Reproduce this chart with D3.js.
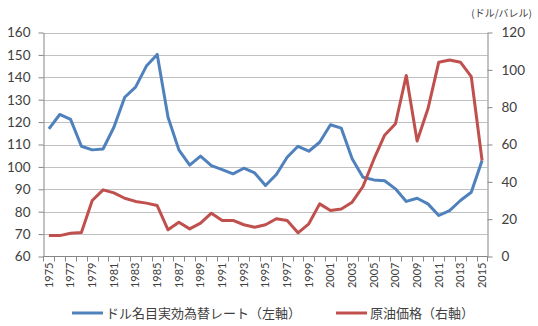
<!DOCTYPE html>
<html>
<head>
<meta charset="utf-8">
<script src="https://cdn.jsdelivr.net/npm/d3@7"></script>
<style>
  html, body { margin: 0; padding: 0; background: #fff; }
  svg { display: block; }
  .num { font-family: Lato, "Liberation Sans", sans-serif; fill: #404040; }
  .jp { font-family: "Noto Sans CJK JP", sans-serif; fill: #404040; }
</style>
</head>
<body>
<svg id="chart" width="538" height="326"></svg>
<script>
// Years on the category axis
const years = d3.range(1975, 2016);

// Nominal effective dollar exchange rate (left axis)
const dollarIndex = [
  117.0, 123.4, 121.2, 109.2, 107.6, 108.0, 117.7, 131.1, 135.6, 145.0,
  150.2, 122.2, 107.6, 100.8, 104.8, 100.6, 98.8, 96.9, 99.4, 97.3,
  91.7, 96.6, 104.3, 109.2, 107.0, 111.0, 118.8, 117.3, 103.6, 95.4,
  94.2, 93.8, 90.2, 84.6, 86.0, 83.5, 78.3, 80.5, 85.0, 88.7,
  102.9
];

// Crude oil price, USD per barrel (right axis)
const oilPrice = [
  11.2, 11.2, 12.5, 12.9, 30.0, 35.7, 34.1, 31.2, 29.5, 28.6,
  27.3, 14.3, 18.4, 14.8, 17.9, 23.2, 19.3, 19.3, 17.0, 15.7,
  17.0, 20.2, 19.3, 12.7, 17.5, 28.2, 24.6, 25.5, 29.1, 37.5,
  52.0, 65.0, 71.1, 97.0, 61.9, 79.1, 104.1, 105.3, 104.1, 96.4,
  51.4
];

const leftTicks = d3.range(60, 161, 10);
const rightTicks = d3.range(0, 121, 20);

const seriesNames = ["ドル名目実効為替レート（左軸）", "原油価格（右軸）"];
const unitLabel = "(ドル/バレル)";

const colors = { dollar: "#4f81bd", oil: "#c0504d" };
const gridColor = "#c0c0c0";
const axisColor = "#868686";

const svg = d3.select("#chart");
const plot = { left: 43.5, right: 487.5, top: 32.5, bottom: 256.5 };

const x = d3.scaleBand()
  .domain(years)
  .range([plot.left, plot.right])
  .paddingInner(0).paddingOuter(0);
const cx = d => x(d) + x.bandwidth() / 2;

const yL = d3.scaleLinear().domain([60, 160]).range([plot.bottom, plot.top]);
const yR = d3.scaleLinear().domain([0, 120]).range([plot.bottom, plot.top]);

// Horizontal gridlines
svg.append("g")
  .selectAll("line")
  .data(leftTicks.slice(1))
  .join("line")
  .attr("x1", plot.left).attr("x2", plot.right)
  .attr("y1", d => Math.round(yL(d)) + 0.5)
  .attr("y2", d => Math.round(yL(d)) + 0.5)
  .attr("stroke", gridColor).attr("stroke-width", 1);

// Left axis
const axL = svg.append("g")
  .attr("transform", `translate(${plot.left},0)`)
  .call(d3.axisLeft(yL).tickValues(leftTicks).tickSize(5).tickSizeOuter(0).tickPadding(8));
axL.selectAll("text").attr("class", "num").attr("font-size", 13.5);

// Right axis
const axR = svg.append("g")
  .attr("transform", `translate(${plot.right},0)`)
  .call(d3.axisRight(yR).tickValues(rightTicks).tickSize(5).tickSizeOuter(0).tickPadding(9));
axR.selectAll("text").attr("class", "num").attr("font-size", 13.5);

[axL, axR].forEach(a => {
  a.attr("font-family", null).attr("font-size", null);
  a.selectAll("path, line").attr("stroke", axisColor);
});

// Bottom axis line and ticks at category boundaries
const bottomY = plot.bottom;
svg.append("line")
  .attr("x1", plot.left).attr("x2", plot.right)
  .attr("y1", bottomY).attr("y2", bottomY)
  .attr("stroke", axisColor);
const boundaries = years.map(d => x(d)).concat([x(years[years.length - 1]) + x.bandwidth()]);
svg.append("g")
  .selectAll("line")
  .data(boundaries)
  .join("line")
  .attr("x1", d => Math.round(d) + 0.5).attr("x2", d => Math.round(d) + 0.5)
  .attr("y1", bottomY).attr("y2", bottomY + 5)
  .attr("stroke", axisColor);

// Year labels, every other year, rotated
svg.append("g")
  .selectAll("text")
  .data(years.filter((d, i) => i % 2 === 0))
  .join("text")
  .attr("class", "num")
  .attr("font-size", 11)
  .attr("text-anchor", "end")
  .attr("dy", "0.35em")
  .attr("transform", d => `translate(${cx(d)},${bottomY + 6}) rotate(-90)`)
  .text(d => d);

// Series lines
const lineL = d3.line().x((d, i) => cx(years[i])).y(d => yL(d));
const lineR = d3.line().x((d, i) => cx(years[i])).y(d => yR(d));

svg.append("path")
  .datum(dollarIndex)
  .attr("d", lineL)
  .attr("fill", "none")
  .attr("stroke", colors.dollar)
  .attr("stroke-width", 3)
  .attr("stroke-linejoin", "round");

svg.append("path")
  .datum(oilPrice)
  .attr("d", lineR)
  .attr("fill", "none")
  .attr("stroke", colors.oil)
  .attr("stroke-width", 3)
  .attr("stroke-linejoin", "round");

// Unit label for the right axis
svg.append("text")
  .attr("class", "jp")
  .attr("x", 532).attr("y", 16.5)
  .attr("text-anchor", "end")
  .attr("font-size", 10)
  .text(unitLabel);

// Legend
const legend = [
  { name: seriesNames[0], color: colors.dollar, x: 72 },
  { name: seriesNames[1], color: colors.oil, x: 336 }
];
const lg = svg.append("g").selectAll("g").data(legend).join("g")
  .attr("transform", d => `translate(${d.x},313)`);
lg.append("line")
  .attr("x1", 0).attr("x2", 31).attr("y1", 0).attr("y2", 0)
  .attr("stroke", d => d.color).attr("stroke-width", 3);
lg.append("text")
  .attr("class", "jp")
  .attr("x", 34).attr("dy", "0.36em")
  .attr("font-size", 13)
  .text(d => d.name);
</script>
</body>
</html>
